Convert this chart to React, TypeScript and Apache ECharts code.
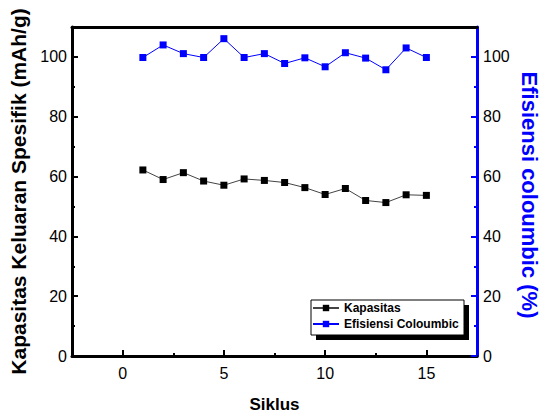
import React, { useEffect, useRef } from "react";
import * as echarts from "echarts";

const cycles = [1, 2, 3, 4, 5, 6, 7, 8, 9, 10, 11, 12, 13, 14, 15];
const kapasitas = [62.2, 59.0, 61.3, 58.5, 57.1, 59.2, 58.7, 58.0, 56.3, 54.0, 56.0, 52.0, 51.3, 53.9, 53.7];
const efisiensi = [99.8, 104.0, 101.1, 99.8, 106.1, 99.8, 101.1, 97.8, 99.7, 96.7, 101.4, 99.6, 95.7, 103.0, 99.8];
const xMajor = [0, 5, 10, 15];
const xMinor = [2.5, 7.5, 12.5];
const yMajor = [0, 20, 40, 60, 80, 100];
const yMinor = [10, 30, 50, 70, 90];

const FONT = "'Liberation Sans', Arial, sans-serif";
const BLUE = "#0000ff";

export default function App() {
  const ref = useRef<HTMLDivElement>(null);
  useEffect(() => {
    document.body.style.margin = "0";
    const chart = echarts.init(ref.current!, null, { renderer: "svg" });
    const xr = { min: -2.5, max: 17.5 };
    const yr = { min: 0, max: 110 };
    chart.setOption({
      animation: false,
      backgroundColor: "#fff",
      textStyle: { fontFamily: FONT },
      grid: { left: 72, right: 63, top: 27, bottom: 62, containLabel: false, outerBoundsMode: "none" },
      xAxis: [
        {
          type: "value", ...xr, position: "bottom",
          axisLine: { onZero: false, lineStyle: { color: "#000", width: 3 } },
          axisTick: { inside: true, length: 6, customValues: xMajor, lineStyle: { color: "#000", width: 2 } },
          axisLabel: { customValues: xMajor, fontSize: 16, color: "#000", margin: 9, fontFamily: FONT },
          splitLine: { show: false },
          name: "Siklus", nameLocation: "middle", nameGap: 40,
          nameTextStyle: { fontSize: 17, fontWeight: "bold", color: "#000", fontFamily: FONT },
        },
        {
          type: "value", ...xr, position: "bottom",
          axisLine: { show: false, onZero: false },
          axisTick: { inside: true, length: 3, customValues: xMinor, lineStyle: { color: "#000", width: 2 } },
          axisLabel: { show: false }, splitLine: { show: false },
        },
        {
          type: "value", ...xr, position: "top",
          axisLine: { onZero: false, lineStyle: { color: "#000", width: 3 } },
          axisTick: { show: false }, axisLabel: { show: false }, splitLine: { show: false },
        },
      ],
      yAxis: [
        {
          type: "value", ...yr, position: "left",
          axisLine: { onZero: false, lineStyle: { color: "#000", width: 3 } },
          axisTick: { inside: true, length: 6, customValues: yMajor, lineStyle: { color: "#000", width: 2 } },
          axisLabel: { customValues: yMajor, fontSize: 16, color: "#000", margin: 5, fontFamily: FONT },
          splitLine: { show: false },
          name: "Kapasitas Keluaran Spesifik (mAh/g)", nameLocation: "middle", nameGap: 41,
          nameTextStyle: { fontSize: 21, fontWeight: "bold", color: "#000", fontFamily: FONT },
        },
        {
          type: "value", ...yr, position: "right",
          axisLine: { onZero: false, lineStyle: { color: BLUE, width: 3 } },
          axisTick: { inside: true, length: 6, customValues: yMajor, lineStyle: { color: BLUE, width: 2 } },
          axisLabel: { customValues: yMajor, fontSize: 16, color: "#000", margin: 6, fontFamily: FONT },
          splitLine: { show: false },
        },
        {
          type: "value", ...yr, position: "left",
          axisLine: { show: false, onZero: false },
          axisTick: { inside: true, length: 3, customValues: yMinor, lineStyle: { color: "#000", width: 2 } },
          axisLabel: { show: false }, splitLine: { show: false },
        },
        {
          type: "value", ...yr, position: "right",
          axisLine: { show: false, onZero: false },
          axisTick: { inside: true, length: 3, customValues: yMinor, lineStyle: { color: BLUE, width: 2 } },
          axisLabel: { show: false }, splitLine: { show: false },
        },
      ],
      legend: {
        orient: "vertical", left: 312, top: 302, z: 20, padding: 0,
        itemWidth: 26, itemHeight: 8, itemGap: 4,
        textStyle: { fontSize: 12, fontWeight: "bold", color: "#000", fontFamily: FONT },
        data: ["Kapasitas", "Efisiensi Coloumbic"],
      },
      graphic: [
        { type: "rect", z: 1, shape: { x: 316, y: 305, width: 153, height: 35 }, style: { fill: "#000" } },
        { type: "rect", z: 2, shape: { x: 311, y: 300, width: 153, height: 35 }, style: { fill: "#fff", stroke: "#000", lineWidth: 1 } },
        {
          type: "text", z: 5, x: 529, y: 195, rotation: -Math.PI / 2,
          style: {
            text: "Efisiensi coloumbic (%)", fill: BLUE,
            font: `bold 22px ${FONT}`, align: "center", verticalAlign: "middle",
          },
        },
      ],
      series: [
        {
          name: "Kapasitas", type: "line", xAxisIndex: 0, yAxisIndex: 0,
          data: cycles.map((c, i) => [c, kapasitas[i]]),
          symbol: "rect", symbolSize: 7,
          itemStyle: { color: "#000" },
          lineStyle: { color: "#444", width: 1 },
        },
        {
          name: "Efisiensi Coloumbic", type: "line", xAxisIndex: 0, yAxisIndex: 1,
          data: cycles.map((c, i) => [c, efisiensi[i]]),
          symbol: "rect", symbolSize: 7,
          itemStyle: { color: BLUE },
          lineStyle: { color: BLUE, width: 1 },
        },
      ],
    });
    return () => chart.dispose();
  }, []);
  return <div ref={ref} style={{ width: 540, height: 418, position: "absolute", left: 0, top: 0 }} />;
}
